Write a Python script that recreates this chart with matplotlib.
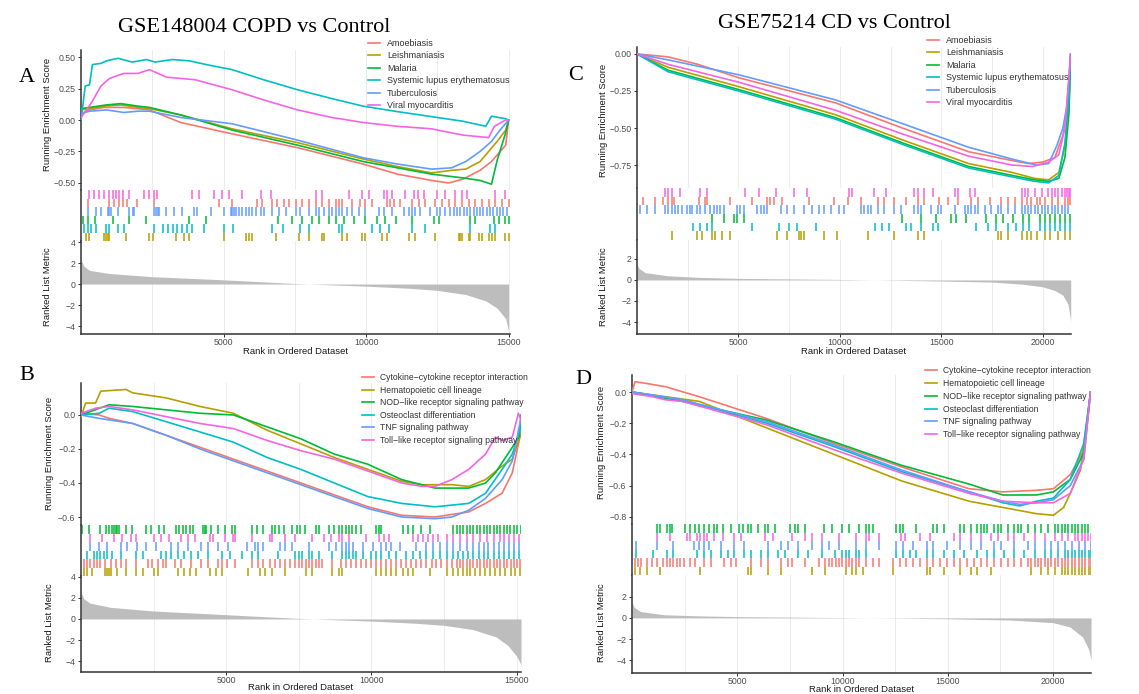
import matplotlib
matplotlib.use('Agg')
import matplotlib.pyplot as plt

W, H = 1139, 694
SANS = 'Liberation Sans'
SERIF = 'Liberation Serif'
plt.rcParams['font.family'] = SANS

HUE = ['#F8766D', '#B79F00', '#00BA38', '#00BFC4', '#619CFF', '#F564E3']

# ---------------------------------------------------------------- gene sets
SETS_AC = ['Amoebiasis', 'Leishmaniasis', 'Malaria',
           'Systemic lupus erythematosus', 'Tuberculosis', 'Viral myocarditis']
SETS_BD = ['Cytokine\u2212cytokine receptor interaction', 'Hematopoietic cell lineage',
           'NOD\u2212like receptor signaling pathway', 'Osteoclast differentiation',
           'TNF signaling pathway', 'Toll\u2212like receptor signaling pathway']
# rug rows from top, as index into the set list
RUG_AC = [5, 0, 4, 2, 3, 1]
RUG_BD = [2, 5, 4, 3, 0, 1]

# ---------------------------------------------------------------- panel A (GSE148004, KEGG infections)
A_ES = {
    'Amoebiasis': ([0, 300, 800, 1500, 2000, 2400, 3500, 5300, 7600, 9900, 11100, 12300, 12900, 13400, 14000, 14400, 14900, 15000],
                   [0.05, 0.08, 0.10, 0.10, 0.09, 0.08, -0.02, -0.11, -0.22, -0.35, -0.43, -0.48, -0.50, -0.47, -0.40, -0.33, -0.20, 0.0]),
    'Leishmaniasis': ([0, 300, 800, 1400, 2000, 2400, 3500, 5300, 7600, 9900, 11100, 12300, 13000, 13500, 14000, 14300, 14600, 14900, 15000],
                      [0.08, 0.09, 0.11, 0.12, 0.10, 0.09, 0.04, -0.07, -0.18, -0.31, -0.37, -0.42, -0.40, -0.39, -0.33, -0.25, -0.17, -0.08, 0.0]),
    'Malaria': ([0, 300, 900, 1400, 2000, 2400, 3500, 5300, 7600, 9900, 11100, 12300, 13400, 14000, 14400, 14600, 14900, 15000],
                [0.09, 0.10, 0.12, 0.13, 0.11, 0.10, 0.04, -0.08, -0.20, -0.33, -0.38, -0.43, -0.46, -0.48, -0.51, -0.32, -0.10, 0.0]),
    'Systemic lupus erythematosus': ([0, 150, 300, 400, 700, 900, 1300, 1800, 2300, 2600, 3200, 3800, 4400, 5300, 6400, 7600, 8800, 9900, 11000, 12200, 13400, 14200, 14400, 14900, 15000],
                                     [0.0, 0.27, 0.28, 0.44, 0.45, 0.47, 0.49, 0.46, 0.48, 0.46, 0.48, 0.47, 0.44, 0.40, 0.32, 0.24, 0.17, 0.11, 0.07, 0.03, -0.01, -0.05, 0.03, 0.01, 0.0]),
    'Tuberculosis': ([0, 300, 900, 1500, 2000, 2400, 3500, 5300, 7600, 9900, 11100, 12300, 13000, 13500, 14000, 14400, 14700, 15000],
                     [0.05, 0.07, 0.08, 0.06, 0.07, 0.07, 0.02, -0.03, -0.16, -0.30, -0.35, -0.39, -0.38, -0.33, -0.25, -0.17, -0.08, 0.0]),
    'Viral myocarditis': ([0, 200, 400, 700, 1000, 1500, 2000, 2400, 3000, 4000, 5300, 6400, 7600, 8800, 9900, 11100, 12300, 13400, 14300, 14500, 14900, 15000],
                          [0.02, 0.08, 0.15, 0.27, 0.33, 0.37, 0.37, 0.40, 0.34, 0.32, 0.24, 0.16, 0.08, 0.02, -0.02, -0.05, -0.07, -0.12, -0.14, -0.05, 0.0, 0.0]),
}
A_HITS = {
    'Viral myocarditis': [290, 470, 640, 820, 990, 1110, 1230, 1320, 1460, 1690, 2220, 2390, 2570, 2680, 3910, 4140, 4670, 4960, 5190, 5660, 6300, 6650, 8230, 8460, 9390, 9860, 10090, 10620, 10730, 10910, 11380, 11670, 11840, 12020, 12480, 12780, 13130, 13360, 13530, 14530, 14880],
    'Amoebiasis': [230, 990, 1170, 1340, 1460, 1630, 1980, 2570, 4840, 5310, 6190, 6360, 6710, 6890, 7120, 7290, 7530, 7760, 7990, 8230, 8460, 8690, 8930, 9040, 9160, 9510, 9800, 9980, 10210, 10740, 10850, 10970, 11200, 11610, 11850, 12080, 12430, 12660, 12900, 13130, 13360, 13600, 13830, 14060, 14300, 14530, 14760, 15000],
    'Tuberculosis': [230, 525, 700, 935, 990, 1050, 1285, 1690, 1810, 1870, 2570, 2625, 2685, 2740, 2975, 3270, 3560, 3970, 4085, 4550, 5020, 5250, 5310, 5370, 5425, 5540, 5660, 5780, 5890, 6010, 6125, 6300, 6420, 6710, 6940, 7180, 7530, 7700, 7990, 8230, 8340, 8520, 8690, 8810, 8930, 9040, 9160, 9340, 9510, 9745, 9980, 10450, 10620, 10910, 11320, 11495, 11610, 11730, 11900, 12250, 12490, 12600, 12780, 12950, 13070, 13190, 13300, 13420, 13540, 13650, 13770, 13890, 14000, 14120, 14240, 14350, 14470, 14590, 14700, 14820, 14940],
    'Malaria': [60, 230, 480, 1120, 1690, 2290, 3800, 4380, 6900, 7410, 7760, 8120, 8340, 8690, 8930, 9230, 9570, 9980, 10400, 10680, 11040, 11610, 12370, 12560, 13660, 13830, 14480, 14650, 14880, 15000],
    'Systemic lupus erythematosus': [120, 230, 350, 540, 875, 990, 1295, 1520, 2570, 2860, 3035, 3210, 3385, 3560, 3735, 3910, 4320, 5020, 5320, 6710, 7070, 7700, 7990, 9040, 9170, 10220, 10500, 10810, 11610, 12080, 13660, 14365, 14530],
    'Leishmaniasis': [175, 290, 820, 875, 935, 990, 1575, 2390, 2510, 3325, 3620, 3790, 5020, 5780, 5890, 6010, 6825, 7640, 7990, 8460, 8520, 9160, 9335, 9860, 9980, 10560, 10735, 11495, 11730, 12430, 13250, 13310, 13360, 13600, 13650, 13950, 14060, 14300, 14410, 14530, 14880, 15000],
}
A_METRIC_X = [0, 100, 300, 1000, 2500, 5000, 7500, 9000, 10000, 11500, 12500, 13500, 14200, 14600, 14900, 15000]
A_METRIC_Y = [2.3, 1.7, 1.3, 1.0, 0.7, 0.4, 0.05, -0.1, -0.2, -0.4, -0.6, -1.0, -1.6, -2.3, -3.3, -4.5]

# ---------------------------------------------------------------- panel C (GSE75214, KEGG infections)
C_ES = {
    'Amoebiasis': ([0, 800, 1535, 3000, 5000, 9786, 13084, 16350, 18500, 19300, 20000, 20600, 21000, 21200, 21386],
                   [0.0, -0.01, -0.02, -0.07, -0.16, -0.33, -0.50, -0.66, -0.72, -0.74, -0.73, -0.70, -0.55, -0.40, 0.0]),
    'Leishmaniasis': ([0, 1535, 5000, 9786, 13084, 16350, 18500, 19600, 20300, 20800, 21100, 21300, 21386],
                      [0.0, -0.09, -0.22, -0.41, -0.58, -0.74, -0.80, -0.84, -0.85, -0.80, -0.62, -0.35, 0.0]),
    'Malaria': ([0, 1535, 5000, 9786, 13084, 16350, 18500, 19600, 20300, 20800, 21100, 21300, 21386],
                [0.0, -0.11, -0.24, -0.43, -0.60, -0.76, -0.82, -0.85, -0.86, -0.84, -0.70, -0.40, 0.0]),
    'Systemic lupus erythematosus': ([0, 1535, 5000, 9786, 13084, 16350, 18500, 19600, 20300, 20800, 21100, 21300, 21386],
                                     [0.0, -0.12, -0.25, -0.44, -0.61, -0.77, -0.83, -0.86, -0.87, -0.82, -0.60, -0.30, 0.0]),
    'Tuberculosis': ([0, 1535, 5000, 9786, 13084, 16350, 18500, 19700, 20300, 20700, 21000, 21200, 21386],
                     [0.0, -0.04, -0.14, -0.31, -0.47, -0.63, -0.71, -0.75, -0.74, -0.62, -0.50, -0.35, 0.0]),
    'Viral myocarditis': ([0, 1535, 5000, 9786, 13084, 16350, 18500, 19500, 20300, 20800, 21100, 21386],
                          [0.0, -0.07, -0.19, -0.38, -0.54, -0.69, -0.75, -0.76, -0.73, -0.68, -0.50, 0.0]),
}
C_HITS = {
    'Viral myocarditis': [1385, 1550, 1715, 2130, 3120, 3450, 5345, 6005, 6830, 7740, 8400, 10460, 10625, 11700, 12275, 13680, 13840, 14175, 14590, 15660, 15820, 16400, 16650, 18960, 19120, 19290, 19620, 19950, 20280, 20440, 20610, 20770, 20940, 21100, 21200, 21300, 21350],
    'Amoebiasis': [310, 890, 1300, 1550, 1715, 1800, 3035, 3365, 3450, 4600, 5675, 6420, 6580, 6750, 7160, 8480, 9720, 10380, 11040, 11860, 12190, 12690, 13265, 13840, 14175, 14915, 15330, 15820, 16480, 16810, 17390, 17970, 18300, 18630, 18960, 19210, 19450, 19700, 19870, 20110, 20440, 20770, 21100, 21250, 21350],
    'Tuberculosis': [150, 480, 890, 1385, 1550, 1715, 1880, 2045, 2210, 2460, 2625, 2705, 2950, 3120, 3365, 3610, 3780, 3940, 4110, 4270, 4935, 5100, 5260, 5925, 6090, 6250, 6420, 7080, 7410, 7740, 8230, 8650, 8975, 9220, 9550, 9965, 10210, 11040, 11200, 11370, 11530, 11860, 12190, 12690, 13020, 13680, 13840, 14010, 14500, 14830, 15000, 15660, 16150, 16320, 16480, 16650, 16810, 17140, 17470, 17800, 17970, 18300, 18630, 18960, 19120, 19290, 19450, 19620, 19780, 19950, 20110, 20280, 20440, 20610, 20770, 20940, 21100, 21270],
    'Malaria': [3680, 4270, 4770, 4930, 5260, 13080, 13990, 14730, 15490, 15720, 16220, 17210, 17700, 18030, 18530, 19020, 19350, 19850, 20110, 20360, 20610, 20850, 21100, 21330],
    'Systemic lupus erythematosus': [2770, 3100, 3450, 3700, 5660, 7000, 7480, 7890, 8810, 11760, 12090, 12420, 13265, 13510, 14010, 14590, 14830, 16710, 17290, 17700, 18300, 18690, 19020, 19350, 19850, 20110, 20360, 20610, 20850, 21100, 21330],
    'Leishmaniasis': [1715, 2950, 3200, 3700, 3860, 4190, 4600, 6910, 7410, 7985, 8070, 8230, 9220, 9880, 11370, 12690, 13840, 14175, 17800, 17970, 18300, 18960, 19210, 19450, 19700, 20110, 20360, 20770, 21100, 21350],
}
C_METRIC_X = [0, 100, 400, 1500, 3000, 5000, 10000, 15000, 17500, 19000, 20000, 20600, 21000, 21250, 21386]
C_METRIC_Y = [1.5, 1.1, 0.7, 0.4, 0.25, 0.15, 0.05, -0.1, -0.2, -0.4, -0.65, -1.0, -1.45, -2.3, -3.9]

# ---------------------------------------------------------------- panel B (GSE148004, immune pathways)
B_ES = {
    SETS_BD[0]: ([0, 625, 970, 1780, 2940, 4100, 5250, 6410, 7570, 8720, 9880, 11040, 12190, 13350, 13930, 14500, 14850, 15150],
                 [0.01, 0.0, -0.02, -0.05, -0.12, -0.19, -0.26, -0.33, -0.40, -0.47, -0.54, -0.59, -0.60, -0.57, -0.52, -0.46, -0.34, -0.10]),
    SETS_BD[1]: ([0, 160, 500, 680, 1550, 1780, 2940, 4100, 5250, 6410, 7570, 8720, 9880, 11040, 11730, 12770, 13350, 13930, 14500, 14850, 15150],
                 [-0.01, 0.07, 0.07, 0.14, 0.15, 0.13, 0.10, 0.05, 0.01, -0.09, -0.17, -0.25, -0.32, -0.39, -0.41, -0.41, -0.42, -0.38, -0.30, -0.26, -0.11]),
    SETS_BD[2]: ([0, 970, 1780, 2940, 4100, 5250, 6410, 7570, 8720, 9880, 11040, 12190, 13350, 13930, 14270, 14500, 14850, 15080, 15150],
                 [0.0, 0.06, 0.05, 0.03, 0.01, 0.0, -0.07, -0.14, -0.23, -0.29, -0.38, -0.43, -0.43, -0.40, -0.34, -0.28, -0.19, -0.13, 0.0]),
    SETS_BD[3]: ([0, 625, 970, 1780, 2940, 4100, 5250, 6410, 7570, 8720, 9880, 11040, 12190, 13350, 13930, 14500, 14850, 15150],
                 [0.0, 0.01, 0.04, 0.02, -0.04, -0.10, -0.16, -0.25, -0.32, -0.40, -0.48, -0.52, -0.54, -0.52, -0.46, -0.32, -0.23, -0.07]),
    SETS_BD[4]: ([0, 625, 1780, 2940, 4100, 5250, 6410, 7570, 8720, 9880, 11040, 12190, 12770, 13350, 13930, 14500, 14850, 15150],
                 [0.0, -0.02, -0.05, -0.12, -0.20, -0.27, -0.34, -0.41, -0.48, -0.55, -0.60, -0.61, -0.60, -0.56, -0.49, -0.38, -0.27, -0.02]),
    SETS_BD[5]: ([0, 510, 970, 1780, 2940, 4100, 5250, 6410, 7570, 8720, 9880, 11040, 11730, 12190, 12770, 13350, 13930, 14270, 14500, 14850, 15060, 15150],
                 [0.01, 0.04, 0.05, 0.03, -0.01, -0.05, -0.08, -0.15, -0.21, -0.26, -0.33, -0.40, -0.42, -0.42, -0.38, -0.32, -0.23, -0.13, -0.15, -0.13, 0.01, -0.03]),
}
B_HITS = {
    SETS_BD[2]: [35, 266, 671, 844, 960, 1076, 1134, 1192, 1249, 1307, 1539, 1770, 2233, 2406, 2696, 2869, 3274, 3390, 3506, 3621, 3737, 3853, 4200, 4258, 4315, 4489, 4720, 4952, 5183, 5299, 5877, 6051, 6282, 6572, 6687, 6803, 6977, 7266, 7439, 7555, 7729, 8076, 8191, 8538, 8712, 8885, 9001, 9117, 9232, 9348, 9464, 9638, 10158, 10274, 10332, 11084, 11258, 11431, 11721, 12010, 12819, 12935, 13051, 13166, 13282, 13398, 13514, 13629, 13745, 13861, 13976, 14092, 14208, 14324, 14439, 14555, 14671, 14786, 14902, 15018, 15133],
    SETS_BD[5]: [320, 730, 1130, 1420, 1710, 1890, 2520, 2750, 3040, 3450, 3680, 3910, 4430, 4550, 4950, 5240, 5300, 5880, 6510, 6570, 7030, 7380, 7960, 8360, 8600, 8890, 9000, 9230, 9810, 10270, 10450, 10620, 11430, 11600, 11780, 11950, 12120, 12300, 12590, 12820, 13050, 13280, 13510, 13750, 13980, 14210, 14440, 14560, 14730, 14900, 15080],
    SETS_BD[4]: [320, 610, 900, 1370, 1600, 1940, 2230, 2580, 3100, 3330, 3680, 4140, 4370, 4720, 5070, 5700, 5990, 6110, 6280, 6860, 7030, 7270, 7840, 8540, 8770, 9000, 9120, 9230, 9350, 9700, 10040, 10330, 10510, 10680, 10970, 11550, 11890, 12120, 12360, 12590, 12820, 13050, 13280, 13510, 13690, 13860, 14030, 14210, 14380, 14550, 14730, 14900, 15080],
    SETS_BD[3]: [210, 440, 560, 670, 790, 900, 1080, 1370, 1890, 2120, 2750, 2930, 3100, 3330, 3560, 3800, 4030, 4370, 4840, 5130, 5530, 5880, 6110, 6800, 7380, 7500, 7610, 7840, 7960, 8190, 8650, 9000, 9120, 9230, 9350, 9460, 9700, 9980, 10160, 10330, 10620, 10850, 11200, 11430, 11660, 11890, 12120, 12360, 12590, 12820, 12990, 13170, 13340, 13510, 13690, 13860, 14030, 14210, 14380, 14550, 14730, 14900, 15080],
    SETS_BD[0]: [90, 210, 320, 440, 560, 670, 840, 1020, 1190, 1370, 1540, 1890, 2290, 2460, 2640, 2810, 2930, 3220, 3450, 3800, 4140, 4370, 4720, 4840, 5010, 5300, 5880, 6110, 6280, 6510, 6690, 6860, 7030, 7210, 7380, 7500, 7610, 7730, 7840, 7960, 8080, 8190, 8310, 8650, 8940, 9120, 9290, 9460, 9640, 9810, 9980, 10160, 10330, 10500, 10680, 10850, 11030, 11200, 11370, 11550, 11720, 11890, 12070, 12240, 12410, 12590, 12760, 12940, 13050, 13170, 13280, 13400, 13510, 13630, 13750, 13860, 13980, 14090, 14210, 14320, 14440, 14560, 14670, 14790, 14900, 15020, 15130],
    SETS_BD[1]: [90, 210, 380, 840, 900, 960, 1020, 1250, 1540, 1890, 2120, 2520, 2640, 3330, 3560, 3740, 3970, 4430, 4660, 4840, 5760, 6170, 6340, 6570, 7030, 7730, 7960, 8650, 8890, 9000, 10160, 10330, 10500, 10680, 10850, 11080, 11260, 11430, 12010, 12590, 12820, 12990, 13170, 13280, 13400, 13570, 13750, 13920, 14090, 14270, 14440, 14610, 14790, 14960, 15130],
}
B_METRIC_X = [0, 100, 300, 1000, 2500, 5000, 7500, 9000, 10000, 11500, 12500, 13500, 14300, 14700, 15000, 15150]
B_METRIC_Y = [2.5, 1.9, 1.5, 1.1, 0.75, 0.4, 0.05, -0.1, -0.2, -0.4, -0.6, -1.0, -1.7, -2.5, -3.5, -4.3]

# ---------------------------------------------------------------- panel D (GSE75214, immune pathways)
D_ES = {
    SETS_BD[0]: ([0, 144, 640, 1587, 3189, 6394, 9599, 12804, 16010, 17612, 19215, 20016, 20817, 21458, 21779],
                 [0.0, 0.066, 0.056, 0.034, -0.03, -0.17, -0.33, -0.48, -0.62, -0.64, -0.63, -0.62, -0.53, -0.37, 0.0]),
    SETS_BD[1]: ([0, 1587, 3189, 6394, 9599, 12804, 16010, 17612, 19215, 20016, 20497, 20817, 21300, 21779],
                 [0.0, -0.03, -0.06, -0.23, -0.40, -0.57, -0.70, -0.74, -0.78, -0.79, -0.74, -0.65, -0.50, 0.0]),
    SETS_BD[2]: ([0, 2388, 6394, 9599, 12804, 16010, 17612, 19215, 20016, 20817, 21458, 21779],
                 [0.0, -0.06, -0.18, -0.32, -0.47, -0.59, -0.66, -0.66, -0.64, -0.56, -0.39, 0.0]),
    SETS_BD[3]: ([0, 2388, 6394, 9599, 12804, 16010, 17612, 18414, 19215, 20016, 20817, 21458, 21779],
                 [0.0, -0.05, -0.20, -0.35, -0.51, -0.64, -0.71, -0.73, -0.70, -0.68, -0.56, -0.33, 0.0]),
    SETS_BD[4]: ([0, 2388, 6394, 9599, 12804, 16010, 17612, 18414, 19215, 20016, 20817, 21458, 21779],
                 [0.0, -0.05, -0.19, -0.34, -0.50, -0.64, -0.70, -0.72, -0.71, -0.69, -0.60, -0.43, 0.0]),
    SETS_BD[5]: ([0, 960, 1587, 2388, 6394, 9599, 12804, 16010, 17612, 19215, 20016, 20817, 21458, 21779],
                 [-0.01, -0.03, -0.05, -0.06, -0.21, -0.37, -0.52, -0.65, -0.70, -0.71, -0.71, -0.65, -0.43, 0.0]),
}
D_HITS = {
    SETS_BD[2]: [1170, 1330, 1650, 1810, 1890, 2530, 2770, 3010, 3170, 3410, 3650, 3900, 4060, 4300, 4700, 5100, 5260, 5500, 5660, 5980, 6300, 6460, 6780, 7500, 7740, 7900, 8220, 9100, 9500, 9990, 10310, 10790, 11110, 11270, 11430, 12550, 12710, 12870, 13510, 14310, 14470, 14800, 15600, 15760, 16080, 16400, 16560, 16720, 16880, 17200, 17360, 17520, 17840, 18160, 18320, 18480, 18800, 19120, 19440, 19760, 20080, 20240, 20400, 20560, 20720, 20880, 21040, 21200, 21360, 21520, 21680],
    SETS_BD[5]: [1170, 1810, 2610, 2770, 3090, 3250, 3410, 3570, 3900, 4300, 4860, 5180, 6300, 6700, 7580, 8220, 8540, 9020, 9830, 10630, 11110, 11270, 11750, 12790, 12950, 13670, 14150, 15280, 15600, 16080, 16560, 17040, 17360, 17840, 18160, 18640, 19120, 19600, 20080, 20400, 20720, 21040, 21200, 21360, 21520, 21680, 21780],
    SETS_BD[4]: [210, 1170, 1970, 2930, 3170, 3410, 3650, 4220, 4860, 5340, 6460, 7100, 7420, 7900, 8540, 9020, 9350, 9830, 10630, 11110, 11750, 12550, 12870, 13350, 13990, 14310, 14960, 15600, 16080, 16560, 17200, 17520, 18160, 18800, 19120, 19600, 19920, 20240, 20570, 20890, 21210, 21530, 21780],
    SETS_BD[3]: [210, 1010, 1650, 1970, 3090, 3410, 3730, 4220, 4540, 4860, 5340, 5660, 6140, 6460, 6940, 7260, 7900, 8380, 9020, 9660, 9990, 10150, 10310, 10630, 10790, 11110, 12550, 12870, 13190, 13510, 13990, 14310, 14800, 15280, 15760, 16400, 16880, 17200, 17680, 18160, 18640, 19120, 19600, 19920, 20240, 20570, 20730, 20890, 21050, 21210, 21370, 21530, 21690, 21780],
    SETS_BD[0]: [130, 290, 450, 690, 930, 1170, 1490, 1650, 1810, 1970, 2130, 2290, 2450, 2770, 3010, 3410, 3730, 4380, 4700, 4940, 5660, 6140, 6460, 7100, 7420, 7580, 8220, 8860, 9180, 9350, 9510, 9670, 9830, 9990, 10150, 10310, 10470, 10630, 10790, 11110, 11430, 11750, 12390, 12710, 13030, 13350, 13670, 13990, 14310, 14630, 14960, 15280, 15600, 15920, 16240, 16560, 16880, 17200, 17520, 17840, 18160, 18480, 18800, 18960, 19120, 19280, 19440, 19600, 19760, 19920, 20080, 20240, 20400, 20570, 20730, 20890, 21050, 21210, 21370, 21530, 21690, 21780],
    SETS_BD[1]: [130, 370, 690, 1330, 3250, 5500, 5660, 6460, 7100, 8540, 9180, 10150, 10470, 10630, 10950, 12390, 13990, 14150, 14800, 15600, 16080, 16400, 17040, 18960, 19440, 19760, 20080, 20400, 20570, 20730, 20890, 21050, 21210, 21370, 21530, 21690, 21780],
}
D_METRIC_X = [0, 100, 400, 1500, 3000, 5000, 10000, 15000, 18000, 20000, 20800, 21400, 21700, 21800]
D_METRIC_Y = [1.5, 1.0, 0.6, 0.3, 0.2, 0.12, 0.03, -0.08, -0.2, -0.45, -0.85, -1.8, -3.0, -4.0]


def fbox(x0, y0, x1, y1):
    return [x0 / W, 1 - y1 / H, (x1 - x0) / W, (y1 - y0) / H]


def minus(s):
    return s.replace('-', '\u2212')


def gsea_panel(fig, px, es_y, rug_y, met_y, xmax, es_lim, es_ticks, es_fmt,
               met_lim, met_ticks, xticks, sets, es, hits, rug_order,
               mx, my, leg_xy, leg_fs, leg_sp, lab_x, es_lab_y, met_lab_y, rank_lab_y):
    x0, x1 = px
    ax_es = fig.add_axes(fbox(x0, es_y[0], x1, es_y[1]))
    ax_rug = fig.add_axes(fbox(x0, rug_y[0], x1, rug_y[1]))
    ax_met = fig.add_axes(fbox(x0, met_y[0], x1, met_y[1]))
    grid = [g for g in range(2500, int(xmax), 2500)]

    for ax in (ax_es, ax_rug, ax_met):
        ax.set_xlim(0, xmax)
        ax.set_facecolor('white')
        for s in ('top', 'right', 'bottom'):
            ax.spines[s].set_visible(False)
        ax.spines['left'].set_color('#333333')
        ax.spines['left'].set_linewidth(1.1)
        ax.tick_params(axis='both', direction='out', length=2.5, width=0.7,
                       color='#333333', labelsize=6.3, labelcolor='#4D4D4D', pad=1.5)

    # running enrichment score
    handles = []
    for i, name in enumerate(sets):
        xs, ys = es[name]
        ln, = ax_es.plot(xs, ys, color=HUE[i], lw=1.2, zorder=3, label=name)
        handles.append(ln)
    for g in grid:
        ax_es.axvline(g, color='#EBEBEB', lw=0.7, zorder=0)
        ax_met.axvline(g, color='#EBEBEB', lw=0.7, zorder=0)
    ax_es.set_ylim(*es_lim)
    ax_es.set_yticks(es_ticks)
    ax_es.set_yticklabels([minus(es_fmt % t) for t in es_ticks])
    ax_es.set_xticks([])

    # hit rug
    n = len(rug_order)
    for r, idx in enumerate(rug_order):
        ax_rug.vlines(hits[sets[idx]], n - r - 1, n - r, color=HUE[idx], lw=1.1)
    ax_rug.set_ylim(0, n)
    ax_rug.set_xticks([])
    ax_rug.set_yticks([])

    # ranked list metric
    ax_met.fill_between(mx, 0, my, color='#BDBDBD', lw=0, zorder=2)
    ax_met.set_ylim(*met_lim)
    ax_met.set_yticks(met_ticks)
    ax_met.set_yticklabels([minus('%d' % t) for t in met_ticks])
    ax_met.set_xticks(xticks)
    ax_met.tick_params(axis='x', pad=0.5)
    ax_met.spines['bottom'].set_visible(True)
    ax_met.spines['bottom'].set_color('#333333')
    ax_met.spines['bottom'].set_linewidth(1.1)

    ax_es.legend(handles=handles, loc='upper left',
                 bbox_to_anchor=(leg_xy[0] / W, 1 - leg_xy[1] / H),
                 bbox_transform=fig.transFigure, frameon=False, fontsize=leg_fs,
                 handlelength=1.35, handletextpad=0.75, labelspacing=leg_sp,
                 borderpad=0, borderaxespad=0, labelcolor='#333333')

    fig.text(lab_x / W, 1 - es_lab_y / H, 'Running Enrichment Score', rotation=90,
             ha='center', va='center', fontsize=6.8, color='#1A1A1A')
    fig.text(lab_x / W, 1 - met_lab_y / H, 'Ranked List Metric', rotation=90,
             ha='center', va='center', fontsize=6.8, color='#1A1A1A')
    fig.text((x0 + x1) / 2 / W, 1 - rank_lab_y / H, 'Rank in Ordered Dataset',
             ha='center', va='center', fontsize=6.8, color='#1A1A1A')


fig = plt.figure(figsize=(W / 100, H / 100), dpi=100)
fig.patch.set_facecolor('white')

gsea_panel(fig, (81, 510), (50, 190), (190, 241), (241, 334), 15050,
           (-0.556, 0.556), [0.5, 0.25, 0.0, -0.25, -0.5], '%.2f',
           (-4.76, 4.1), [4, 2, 0, -2, -4], [5000, 10000, 15000],
           SETS_AC, A_ES, A_HITS, RUG_AC, A_METRIC_X, A_METRIC_Y,
           (368, 39), 6.5, 0.38, 48, 114, 287, 352)

gsea_panel(fig, (637, 1071), (47, 188), (188, 240), (240, 334), 21400,
           (-0.905, 0.047), [0.0, -0.25, -0.5, -0.75], '%.2f',
           (-5.14, 3.8), [2, 0, -2, -4], [5000, 10000, 15000, 20000],
           SETS_AC, C_ES, C_HITS, RUG_AC, C_METRIC_X, C_METRIC_Y,
           (927, 36), 6.5, 0.38, 603, 120, 287, 352)

gsea_panel(fig, (81, 521), (383, 525), (525, 576), (576, 672), 15150,
           (-0.647, 0.188), [0.0, -0.2, -0.4, -0.6], '%.1f',
           (-5.0, 4.05), [4, 2, 0, -2, -4], [5000, 10000, 15000],
           SETS_BD, B_ES, B_HITS, RUG_BD, B_METRIC_X, B_METRIC_Y,
           (362, 373), 6.2, 0.42, 49, 453, 623, 688)

gsea_panel(fig, (632, 1091), (375, 524), (524, 575), (575, 673), 21800,
           (-0.846, 0.109), [0.0, -0.2, -0.4, -0.6, -0.8], '%.1f',
           (-5.2, 4.05), [2, 0, -2, -4], [5000, 10000, 15000, 20000],
           SETS_BD, D_ES, D_HITS, RUG_BD, D_METRIC_X, D_METRIC_Y,
           (925, 366), 6.2, 0.45, 601, 442, 623, 689)

# titles and panel letters
fig.text(254 / W, 1 - 27 / H, 'GSE148004 COPD vs Control', family=SERIF,
         fontsize=16, ha='center', va='center')
fig.text(834 / W, 1 - 24 / H, 'GSE75214 CD vs Control', family=SERIF,
         fontsize=16, ha='center', va='center')
for letter, lx, ly in [('A', 27, 78), ('B', 27, 376), ('C', 576, 75), ('D', 583, 380)]:
    fig.text(lx / W, 1 - ly / H, letter, family=SERIF, fontsize=16,
             ha='center', va='center')

fig.savefig('out.png', dpi=100)
